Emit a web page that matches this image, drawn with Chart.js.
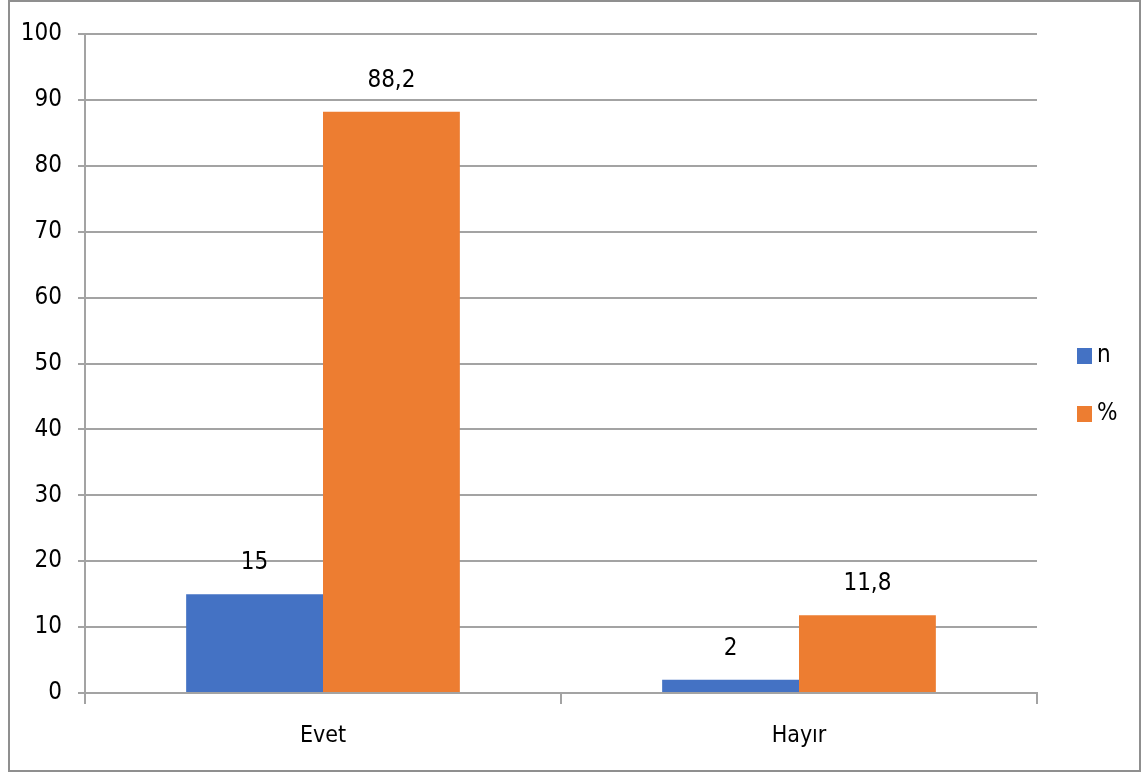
<!DOCTYPE html>
<html>
<head>
<meta charset="utf-8">
<style>
  html, body { margin: 0; padding: 0; background: #fff; }
  #wrap { position: relative; width: 1148px; height: 774px; }
</style>
<script src="https://cdn.jsdelivr.net/npm/chart.js@4/dist/chart.umd.min.js"></script>
</head>
<body>
<div id="wrap"><canvas id="c" width="1148" height="774"></canvas></div>
<script>
// Answer categories and the two series (count and percentage)
const categories = ['Evet', 'Hayır'];
const seriesN = [15, 2];
const seriesPct = [88.2, 11.8];
const seriesNames = ['n', '%'];

const FONT = "'Liberation Sans Narrow', 'Arial Narrow', 'DejaVu Sans Condensed', sans-serif";
const TEXT = '#000000';
const GRID = '#a3a3a3';
const COLORS = ['#4472C4', '#ED7D31'];

const fmt = v => String(v).replace('.', ',');

// Outer frame around the whole figure
const framePlugin = {
  id: 'frame',
  beforeDraw(chart) {
    const ctx = chart.ctx;
    ctx.save();
    ctx.fillStyle = '#fff';
    ctx.fillRect(0, 0, chart.width, chart.height);
    ctx.strokeStyle = '#8f8f8f';
    ctx.lineWidth = 2;
    ctx.strokeRect(9, 1, 1131, 770);
    ctx.restore();
  }
};

// Values printed above each bar
const valueLabels = {
  id: 'valueLabels',
  afterDatasetsDraw(chart) {
    const ctx = chart.ctx;
    ctx.save();
    ctx.font = '24px ' + FONT;
    ctx.fillStyle = TEXT;
    ctx.textAlign = 'center';
    ctx.textBaseline = 'middle';
    chart.data.datasets.forEach((ds, i) => {
      chart.getDatasetMeta(i).data.forEach((bar, j) => {
        ctx.fillText(fmt(ds.data[j]), bar.x, bar.y - 31);
      });
    });
    ctx.restore();
  }
};

// Legend on the right side, one entry per series
const sideLegend = {
  id: 'sideLegend',
  afterDraw(chart) {
    const ctx = chart.ctx;
    ctx.save();
    ctx.font = '24px ' + FONT;
    ctx.textBaseline = 'middle';
    const ys = [356, 414];
    chart.data.datasets.forEach((ds, i) => {
      ctx.fillStyle = ds.backgroundColor;
      ctx.fillRect(1077, ys[i] - 8, 15, 16);
      ctx.fillStyle = TEXT;
      ctx.fillText(ds.label, 1097, ys[i]);
    });
    ctx.restore();
  }
};

new Chart(document.getElementById('c'), {
  type: 'bar',
  data: {
    labels: categories,
    datasets: [
      { label: seriesNames[0], data: seriesN, backgroundColor: COLORS[0] },
      { label: seriesNames[1], data: seriesPct, backgroundColor: COLORS[1] }
    ]
  },
  options: {
    responsive: false,
    animation: false,
    devicePixelRatio: 1,
    layout: { padding: { left: 0, right: 111, top: 34, bottom: 0 } },
    datasets: { bar: { categoryPercentage: 0.575, barPercentage: 1.0 } },
    plugins: { legend: { display: false }, tooltip: { enabled: false } },
    scales: {
      x: {
        grid: { display: true, drawOnChartArea: false, drawTicks: true, tickLength: 11, color: GRID, lineWidth: 2, offset: true },
        border: { display: true, color: GRID, width: 2 },
        ticks: { color: TEXT, font: { family: FONT, size: 23 }, padding: 18 },
        afterFit(s) { s.height = 81; }
      },
      y: {
        min: 0, max: 100,
        ticks: { stepSize: 10, color: TEXT, font: { family: FONT, size: 24 }, padding: 16 },
        grid: { color: GRID, lineWidth: 2, tickLength: 7, drawTicks: true },
        border: { display: true, color: GRID, width: 2 },
        afterFit(s) { s.width = 85; }
      }
    }
  },
  plugins: [framePlugin, valueLabels, sideLegend]
});
</script>
</body>
</html>
